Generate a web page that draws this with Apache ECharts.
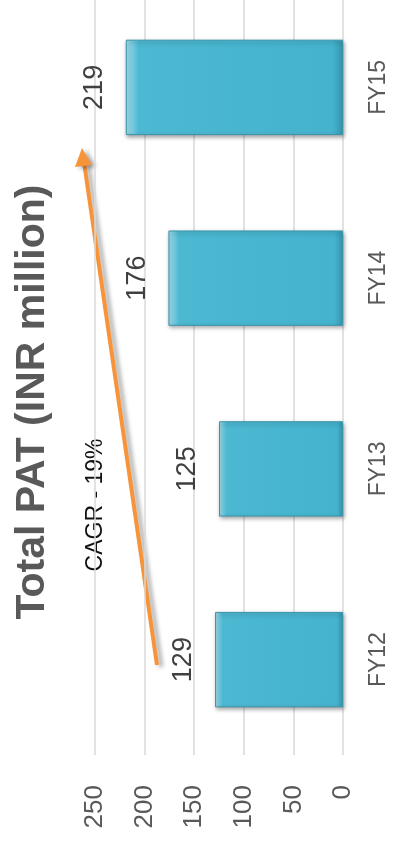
<!DOCTYPE html>
<html>
<head>
<meta charset="utf-8">
<script src="https://cdn.jsdelivr.net/npm/echarts@6/dist/echarts.min.js"></script>
<style>
  html, body { margin: 0; padding: 0; background: #fff; overflow: hidden; }
  #wrap { position: relative; width: 395px; height: 854px; overflow: hidden; }
  #chart { position: absolute; left: 0; top: -8px; width: 395px; height: 862px; }
</style>
</head>
<body>
<div id="wrap"><div id="chart"></div></div>
<script>
var categories = ['FY12', 'FY13', 'FY14', 'FY15'];
var patValues = [129, 125, 176, 219];
var valueTicks = [0, 50, 100, 150, 200, 250];
var titleText = 'Total PAT (INR million)';
var cagrText = 'CAGR - 19%';

var chart = echarts.init(document.getElementById('chart'), null, { renderer: 'canvas' });
var font = '"Liberation Sans", Arial, sans-serif';
var dy = 8;

var option = {
  backgroundColor: '#ffffff',
  animation: false,
  grid: { left: 95, right: 52, top: 0, bottom: 99, containLabel: false },
  xAxis: {
    type: 'value',
    inverse: true,
    min: valueTicks[0],
    max: valueTicks[valueTicks.length - 1],
    interval: valueTicks[1] - valueTicks[0],
    position: 'bottom',
    axisLine: { show: false },
    axisTick: { show: false },
    splitLine: { show: true, lineStyle: { color: '#d9d9d9', width: 1.5 } },
    axisLabel: { rotate: 90, margin: 30, color: '#595959', fontSize: 26, fontFamily: font }
  },
  yAxis: {
    type: 'category',
    data: categories,
    position: 'right',
    axisLine: { show: false },
    axisTick: { show: false },
    splitLine: { show: false },
    axisLabel: { rotate: 90, margin: 36, align: 'center', verticalAlign: 'middle', color: '#595959', fontSize: 23, fontFamily: font }
  },
  series: [{
    type: 'bar',
    data: patValues,
    barCategoryGap: '50%',
    itemStyle: {
      color: new echarts.graphic.LinearGradient(0, 0, 1, 0, [
        { offset: 0, color: '#a3dfec' },
        { offset: 0.06, color: '#4cb8d2' },
        { offset: 0.95, color: '#45b3ce' },
        { offset: 1, color: '#3797b0' }
      ]),
      borderColor: '#3a95ab',
      borderWidth: 1,
      shadowColor: 'rgba(0,0,0,0.35)',
      shadowBlur: 4,
      shadowOffsetX: 1,
      shadowOffsetY: 2
    },
    label: {
      show: true,
      position: 'left',
      distance: 31,
      rotate: 90,
      align: 'center',
      verticalAlign: 'middle',
      color: '#404040',
      fontSize: 27,
      fontFamily: font
    }
  }],
  graphic: [
    {
      type: 'text',
      x: 33, y: 402 + dy,
      rotation: Math.PI / 2,
      style: { text: titleText, fill: '#595959', font: 'bold 41px ' + font, textAlign: 'center', textVerticalAlign: 'middle' }
    },
    {
      type: 'text',
      x: 96, y: 505 + dy,
      rotation: Math.PI / 2,
      style: { text: cagrText, fill: '#111111', font: '23px ' + font, textAlign: 'center', textVerticalAlign: 'middle' }
    },
    {
      type: 'line',
      shape: { x1: 157, y1: 665 + dy, x2: 84, y2: 162 + dy },
      style: { stroke: '#f7943a', lineWidth: 4, shadowColor: 'rgba(0,0,0,0.35)', shadowBlur: 4, shadowOffsetX: 4, shadowOffsetY: 2 }
    },
    {
      type: 'polygon',
      shape: { points: [[82, 148 + dy], [75, 167 + dy], [92, 165 + dy]] },
      style: { fill: '#f7943a', shadowColor: 'rgba(0,0,0,0.35)', shadowBlur: 4, shadowOffsetX: 4, shadowOffsetY: 2 }
    }
  ]
};
chart.setOption(option);
</script>
</body>
</html>
